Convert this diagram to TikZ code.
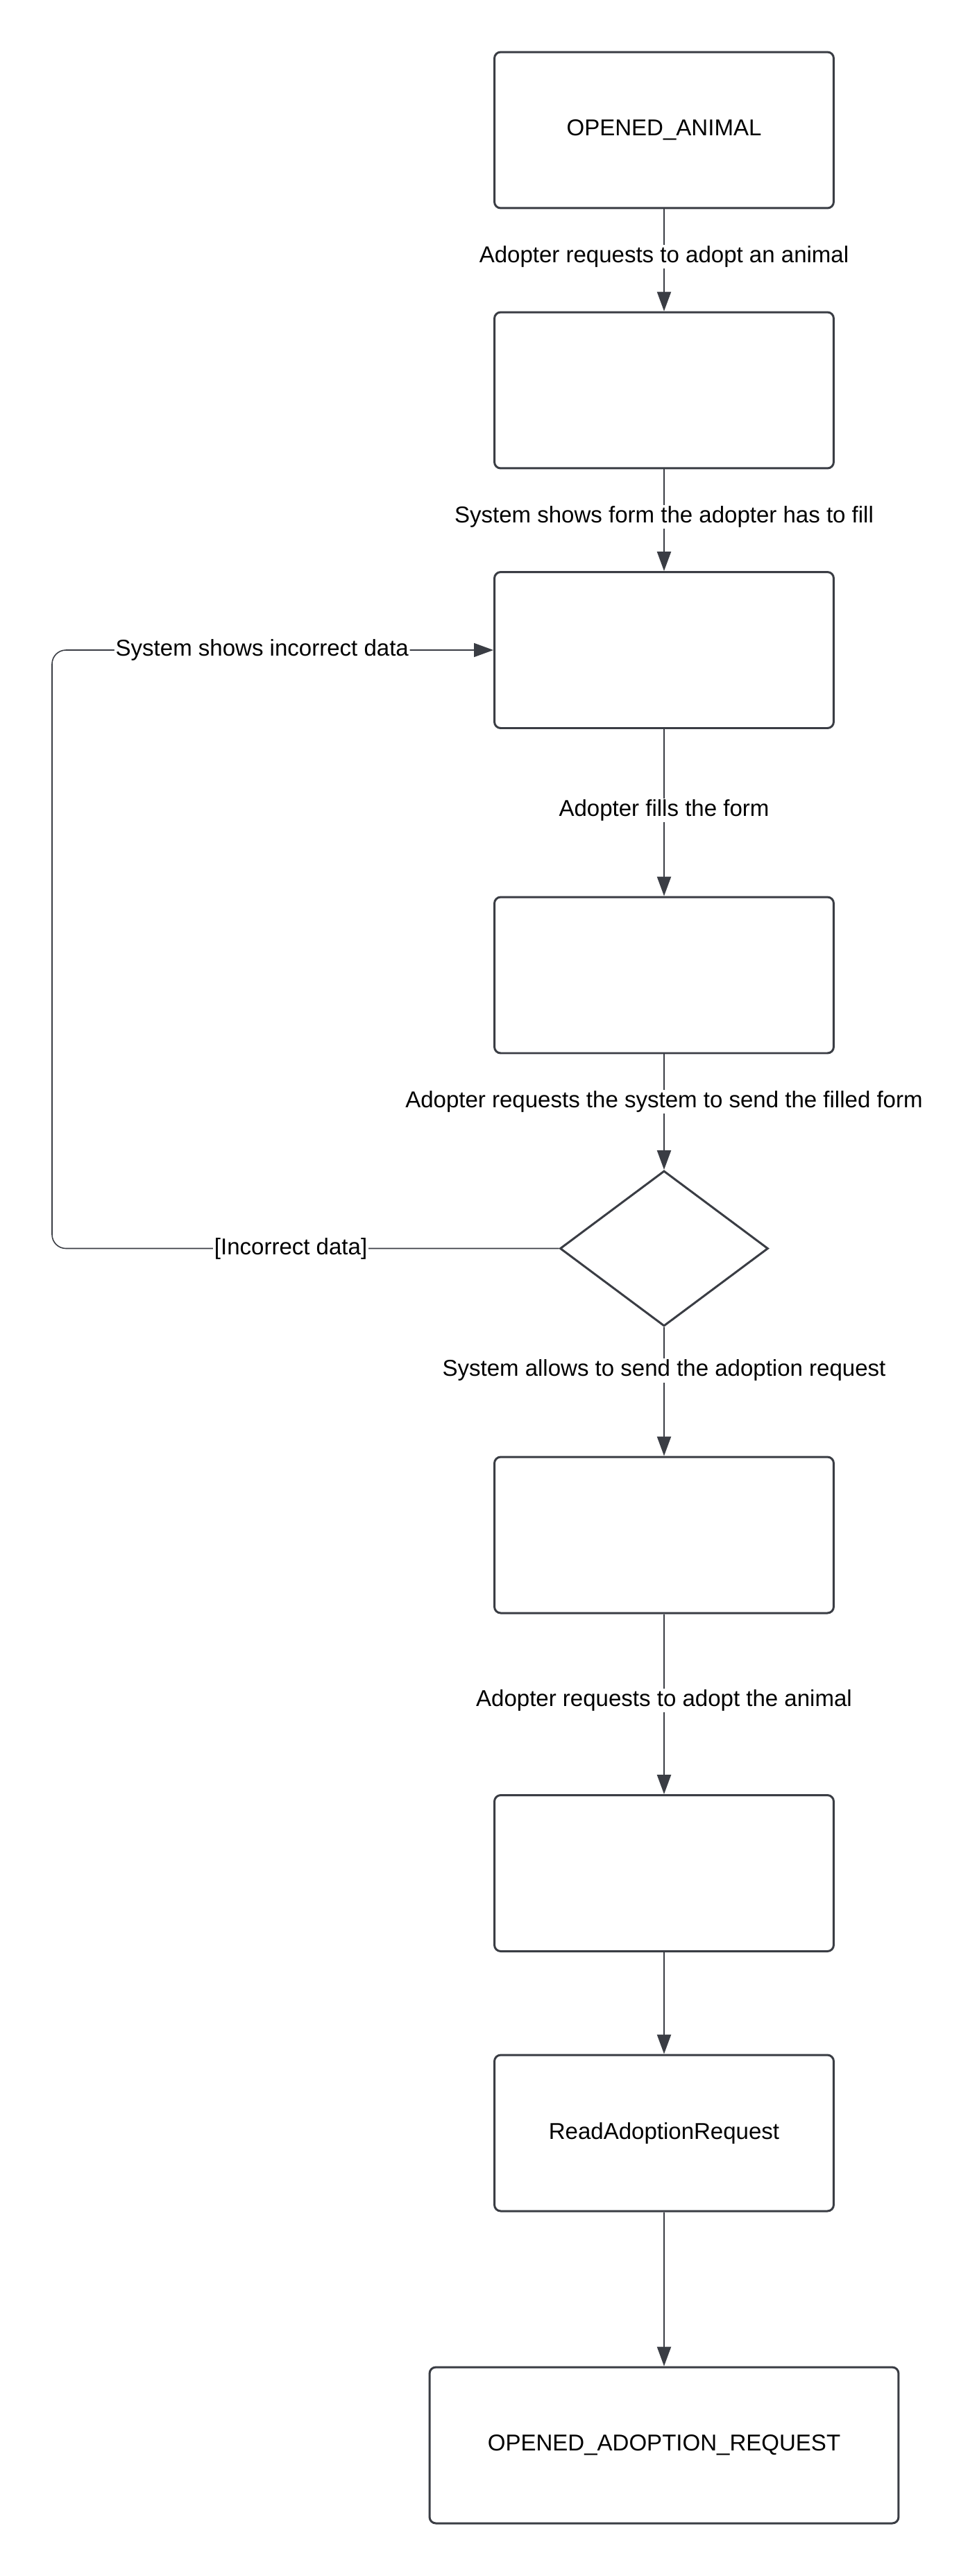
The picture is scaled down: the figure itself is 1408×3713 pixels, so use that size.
\documentclass[tikz,border=0pt]{standalone}
\usepackage{fontspec}
\setmainfont{Liberation Sans}
\usetikzlibrary{arrows.meta,shapes.geometric}
\definecolor{linegray}{HTML}{3A3D44}
\tikzset{
  statebox/.style={draw=linegray,line width=1.7pt,rounded corners=0.18cm,fill=white,
    minimum width=9.78cm,minimum height=4.5cm,font=\fontsize{18.8pt}{22pt}\selectfont},
  decision/.style={draw=linegray,line width=1.7pt,diamond,fill=white,inner sep=0pt,
    minimum width=6cm,minimum height=4.48cm},
  flow/.style={draw=linegray,line width=1.3pt,-{Triangle[length=0.56cm,width=0.4cm]}},
  loopback/.style={draw=linegray,line width=0.9pt,rounded corners=0.4cm,-{Triangle[length=0.56cm,width=0.4cm]}},
  lbl/.style={fill=white,inner sep=1pt,font=\fontsize{18.8pt}{22pt}\selectfont,text=black}
}
\begin{document}
\begin{tikzpicture}[x=0.02cm,y=-0.02cm]
			\useasboundingbox[fill=white] (0,0) rectangle (1408,3713);
			\node[statebox] (opened) at (957,187.5) {OPENED\_ANIMAL};
			\node[statebox] (s2) at (957,562.5) {};
			\node[statebox] (s3) at (957,937) {};
			\node[statebox] (s4) at (957,1405.5) {};
			\node[decision] (dec) at (957,1799.5) {};
			\node[statebox] (s5) at (957,2212.5) {};
			\node[statebox] (s6) at (957,2700) {};
			\node[statebox] (read) at (957,3074.5) {ReadAdoptionRequest};
			\node[statebox,minimum width=13.52cm] (request) at (957,3524.5) {OPENED\_ADOPTION\_REQUEST};
			\coordinate (loopbottom) at (75,1799.5);
			\coordinate (looptop) at (75,937);
			% main flow
			\draw[flow] (opened) -- node[lbl,pos=0.467]{Adopter requests to adopt an animal} (s2);
			\draw[flow] (s2) -- node[lbl,pos=0.467]{System shows form the adopter has to fill} (s3);
			\draw[flow] (s3) -- node[lbl,pos=0.486]{Adopter fills the form} (s4);
			\draw[flow] (s4) -- node[lbl,pos=0.413]{Adopter requests the system to send the filled form} (dec);
			\draw[flow] (dec) -- node[lbl,pos=0.336]{System allows to send the adoption request} (s5);
			\draw[flow] (s5) -- node[lbl,pos=0.479]{Adopter requests to adopt the animal} (s6);
			\draw[flow] (s6) -- (read);
			\draw[flow] (read) -- (request);
			% incorrect data goes back to the form
			\draw[loopback] (dec.west) -- node[lbl,pos=0.529]{[Incorrect data]} (loopbottom) -- (looptop)
				-- node[lbl,pos=0.476]{System shows incorrect data} (s3.west);
		\end{tikzpicture}
\end{document}
